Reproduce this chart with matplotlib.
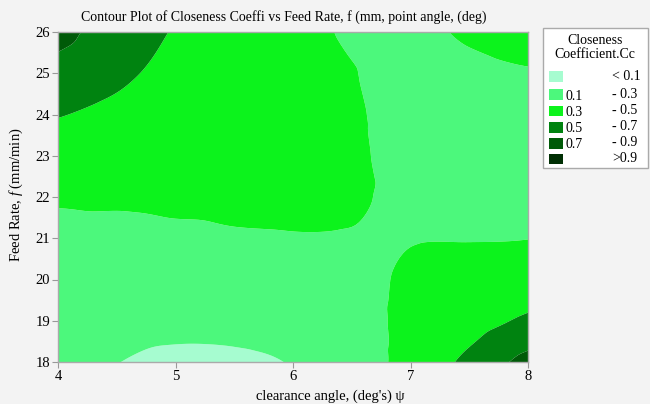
import numpy as np
import matplotlib
matplotlib.use("Agg")
import matplotlib.pyplot as plt
import matplotlib.tri as mtri
from matplotlib.patches import Rectangle

plt.rcParams['font.family'] = ['Liberation Serif', 'DejaVu Serif']
plt.rcParams['mathtext.fontset'] = 'custom'
plt.rcParams['mathtext.rm'] = 'Liberation Serif'
plt.rcParams['mathtext.it'] = 'Liberation Serif:italic'

# ---- data ----
clearance_angle = [4.0, 4.5, 5.0, 5.5, 6.0, 6.5, 7.0, 7.5, 8.0]
feed_rate = [18, 19, 20, 21, 22, 23, 24, 25, 26]
# rows: feed rate 18 -> 26 ; columns: clearance angle 4 -> 8
cc_18 = [0.16, 0.103, 0.075, 0.078, 0.108, 0.20, 0.36, 0.55, 0.76]
cc_19 = [0.21, 0.15, 0.135, 0.14, 0.16, 0.23, 0.34, 0.42, 0.53]
cc_20 = [0.24, 0.20, 0.20, 0.21, 0.22, 0.26, 0.32, 0.36, 0.40]
cc_21 = [0.27, 0.26, 0.27, 0.285, 0.292, 0.293, 0.295, 0.295, 0.298]
cc_22 = [0.315, 0.32, 0.33, 0.33, 0.33, 0.316, 0.272, 0.26, 0.25]
cc_23 = [0.40, 0.38, 0.37, 0.36, 0.345, 0.315, 0.268, 0.24, 0.22]
cc_24 = [0.51, 0.455, 0.41, 0.38, 0.35, 0.312, 0.265, 0.245, 0.23]
cc_25 = [0.63, 0.54, 0.45, 0.40, 0.355, 0.305, 0.265, 0.27, 0.29]
cc_26 = [0.76, 0.60, 0.49, 0.42, 0.36, 0.28, 0.27, 0.32, 0.36]

levels = [-1.0, 0.1, 0.3, 0.5, 0.7, 0.9, 2.0]
level_colors = ['#a6fcd0', '#4cf87c', '#0cf31c', '#008310', '#005a08', '#002f04']
legend_left = ['', '0.1', '0.3', '0.5', '0.7', '']
legend_right = ['< 0.1', '- 0.3', '- 0.5', '- 0.7', '- 0.9', '>0.9']
xticks = [4, 5, 6, 7, 8]
yticks = [18, 19, 20, 21, 22, 23, 24, 25, 26]

# ---- figure ----
W, H = 650, 404
fig = plt.figure(figsize=(W / 100, H / 100), dpi=100)
fig.patch.set_facecolor('#f3f3f3')
ax = fig.add_axes([58 / W, 1 - 362 / H, (528 - 58) / W, (362 - 32) / H])

Z = np.array([cc_18, cc_19, cc_20, cc_21, cc_22, cc_23, cc_24, cc_25, cc_26])
X, Y = np.meshgrid(clearance_angle, feed_rate)
tri = mtri.Triangulation(X.ravel(), Y.ravel())
interp = mtri.CubicTriInterpolator(tri, Z.ravel(), kind='geom')
refiner = mtri.UniformTriRefiner(tri)
tri_f, z_f = refiner.refine_field(Z.ravel(), triinterpolator=interp, subdiv=4)
ax.tricontourf(tri_f, z_f, levels=levels, colors=level_colors, antialiased=True)

ax.set_xlim(4, 8)
ax.set_ylim(18, 26)
ax.set_xticks(xticks)
ax.set_yticks(yticks)
ax.tick_params(direction='out', length=4, width=0.8, color='#999999',
               labelsize=10.5, pad=1.5)
for s in ax.spines.values():
    s.set_color('#aaaaaa')
    s.set_linewidth(1.0)

fig.text(284 / W, 1 - 17 / H,
         'Contour Plot of Closeness Coeffi vs Feed Rate, f (mm, point angle, (deg)',
         ha='center', va='center', fontsize=10)
fig.text(330 / W, 1 - 396 / H, "clearance angle, (deg's) ψ",
         ha='center', va='center', fontsize=10.5)
fig.text(16 / W, 1 - 195 / H, r'Feed Rate, $\mathit{f}$ (mm/min)', rotation=90,
         ha='center', va='center', fontsize=10.5)

# ---- legend box ----
def fx(px):
    return px / W

def fy(py):
    return 1 - py / H

fig.patches.append(Rectangle((fx(543), fy(168)), (648 - 543) / W, (168 - 28) / H,
                             transform=fig.transFigure, facecolor='white',
                             edgecolor='#aaaaaa', linewidth=1.0))
fig.text(fx(595), fy(41), 'Closeness', ha='center', va='center', fontsize=10)
fig.text(fx(595), fy(55), 'Coefficient.Cc', ha='center', va='center', fontsize=10)
patch_top = [71.5, 89.5, 106, 122, 138, 153.5]
for i, c in enumerate(level_colors):
    fig.patches.append(Rectangle((fx(548.5), fy(patch_top[i] + 10.5)), 14 / W, 10.5 / H,
                                 transform=fig.transFigure, facecolor=c,
                                 edgecolor='none'))
    if legend_left[i]:
        fig.text(fx(566), fy(patch_top[i] + 6.5), legend_left[i], ha='left',
                 va='center', fontsize=10)
    fig.text(fx(612), fy(patch_top[i] + 5), legend_right[i], ha='left',
             va='center', fontsize=10)

fig.savefig('out.png', dpi=100, facecolor=fig.get_facecolor())
